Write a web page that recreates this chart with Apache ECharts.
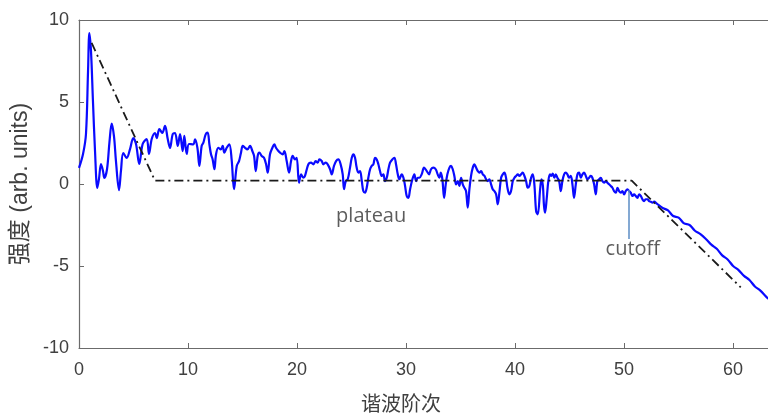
<!DOCTYPE html>
<html>
<head>
<meta charset="utf-8">
<script src="https://cdn.jsdelivr.net/npm/echarts@6/dist/echarts.min.js"></script>
<style>
html,body{margin:0;padding:0;background:#fff;}
#chart{width:768px;height:418px;}
</style>
</head>
<body>
<div id="chart"></div>
<script>
// Harmonic order (x) and intensity (y)
var harmonicOrder = [
0,0.37,0.64,0.83,0.95,1.1,1.28,1.47,1.68,1.83,2.02,2.2,2.32,2.57,2.8,3.0,3.21,3.39,3.67,3.85,4.06,4.38,4.68,4.98,5.23,5.53,5.84,6.21,6.42,6.67,6.97,7.13,7.37,7.64,7.89,8.14,8.35,8.6,8.81,9.06,9.27,9.51,9.66,9.88,10.09,
10.49,10.64,10.86,11.04,11.25,11.41,11.62,11.8,11.96,12.11,12.26,12.42,12.57,12.78,13.0,13.18,13.33,13.55,13.79,14.0,14.22,14.47,14.68,14.86,15.02,15.23,15.44,15.69,15.9,16.06,16.21,16.39,16.54,16.76,16.97,17.16,17.31,17.52,17.74,17.92,18.07,18.29,18.44,18.69,18.84,19.05,19.27,19.45,19.6,19.82,19.97,20.18,20.37,20.58,20.73,
21.04,21.28,21.5,21.71,21.9,22.05,22.26,22.41,22.63,22.81,23.03,23.18,23.39,23.58,23.79,24.0,24.19,24.31,24.47,24.65,24.86,25.02,25.17,25.32,25.47,25.63,25.78,25.94,26.08,26.24,26.39,26.54,26.7,26.85,27.0,27.16,27.31,27.46,27.61,27.77,27.92,28.07,28.23,28.38,28.53,28.74,28.93,29.08,29.24,29.39,29.6,29.76,29.91,30.06,30.21,30.37,30.58,30.76,30.92,31.07,31.22,31.44,
31.65,31.9,32.11,32.29,32.5,32.72,32.9,33.06,33.18,33.33,33.49,33.64,33.79,33.98,34.13,34.28,34.43,34.59,34.74,34.89,35.05,35.2,35.35,35.5,35.66,35.81,35.96,36.12,36.27,36.42,36.58,36.73,36.88,37.04,37.19,37.34,37.49,37.64,37.8,37.95,38.1,38.26,38.41,38.56,38.72,38.87,39.02,39.17,39.3,39.48,39.63,39.79,39.94,40.09,40.25,40.4,40.55,40.7,40.86,41.01,41.16,41.31,41.47,41.62,41.77,41.93,42.08,
42.3,42.42,42.55,42.65,42.75,42.9,43.05,43.2,43.32,43.45,43.6,43.73,43.88,44.04,44.19,44.34,44.5,44.65,44.8,44.95,45.11,45.26,45.41,45.57,45.72,45.87,46.03,46.18,46.33,46.49,46.63,46.79,46.94,47.09,47.25,47.4,47.55,47.71,47.86,48.01,48.17,48.32,48.47,48.62,48.78,48.93,49.08,49.24,49.39,49.54,49.7,49.85,50.0,50.15,50.31,50.46,50.61,50.76,50.92,51.07,51.22,51.38,51.53,51.68,51.83,51.99,52.14,52.29,52.45,52.6,52.75,
53.0,53.5,54.0,54.5,55.0,55.5,56.0,56.5,57.0,57.5,58.0,58.5,59.0,59.5,60.0,60.5,61.0,61.5,62.0,62.5,63.0,63.5
];
var intensity = [
0.98,1.83,3.05,6.9,9.2,8.1,5.06,2.0,-0.24,0.3,1.22,0.8,0.37,0.9,2.6,3.68,2.9,1.4,-0.37,0.8,1.89,1.59,2.13,2.8,2.44,1.22,2.44,2.74,1.83,2.74,3.11,2.8,3.35,3.11,3.54,2.74,2.2,3.05,3.11,2.32,3.05,2.01,2.93,1.83,2.44,
2.42,2.72,2.21,1.10,2.32,2.52,3.03,3.13,2.42,1.81,1.5,0.9,1.81,2.21,2.11,2.32,1.91,2.21,2.42,1.5,-0.32,1.1,1.4,1.91,2.32,2.21,2.11,2.32,2.01,1.71,0.79,1.71,1.91,1.71,1.6,1.2,0.69,1.81,2.21,2.42,2.21,2.01,1.91,1.81,2.01,1.4,0.69,1.4,1.71,1.5,1.6,0.08,0.59,0.38,0.5,
1.2,1.3,1.2,1.4,1.3,1.5,1.4,1.2,1.3,1.2,0.9,0.59,1.1,1.4,1.5,1.2,0.59,-0.32,0.18,0.29,1.0,1.6,1.81,1.6,1.0,0.69,0.79,0.18,-0.43,-0.53,-0.23,0.38,0.9,1.1,1.2,1.6,1.5,1.2,0.79,0.49,0.59,0.18,0.38,0.9,1.3,1.5,1.6,1.2,0.59,0.29,0.59,0.38,-0.12,-0.73,-0.84,-0.32,0.29,0.59,0.18,0.38,0.38,0.6,
1.0,0.79,0.59,0.9,1.0,0.9,0.59,0.38,0.69,0.29,-0.84,-0.02,0.59,1.0,1.1,0.9,0.49,-0.02,0.18,-0.12,0.38,-0.02,-0.23,-0.43,-1.44,-0.32,0.49,1.0,1.2,1.0,0.79,0.69,0.79,0.59,0.49,0.29,0.18,0.29,-0.02,-0.32,-0.43,-0.63,-1.24,-0.53,0.38,0.59,0.69,0.38,-0.23,-0.63,-0.43,0.18,0.38,0.49,0.59,0.49,0.59,0.69,0.49,0.18,-0.23,-0.12,0.38,0.59,-0.02,-1.65,-1.85,
-0.3,0.29,-0.1,-1.3,-1.75,-0.9,0.18,0.59,0.49,0.63,0.38,0.59,0.38,0.18,-0.43,0.18,0.59,0.69,0.59,0.38,0.49,-0.02,-0.84,-0.02,0.59,0.69,0.38,0.59,0.69,0.49,0.29,0.38,0.49,0.38,-0.02,-0.63,0.18,0.29,0.38,0.18,0.08,0.18,0.08,-0.02,-0.12,-0.23,-0.43,-0.53,-0.23,-0.43,-0.53,-0.43,-0.63,-0.43,-0.32,-0.43,-0.53,-0.73,-0.63,-0.73,-0.84,-0.63,-0.73,-0.93,-1.04,-0.93,-0.93,-1.04,-1.08,-1.14,-1.08,
-1.2,-1.45,-1.6,-1.95,-2.05,-2.4,-2.5,-2.85,-3.05,-3.35,-3.7,-3.95,-4.35,-4.6,-5.0,-5.25,-5.6,-5.85,-6.25,-6.5,-6.85,-7.15
];
// Dash-dot envelope (model) line
var envelopeX = [1.16, 6.97, 50.7, 60.7];
var envelopeY = [8.6, 0.2, 0.2, -6.3];
// Axis ticks
var xTicks = [0, 10, 20, 30, 40, 50, 60];
var yTicks = [-10, -5, 0, 5, 10];
// Annotations
var annotationText = ['plateau', 'cutoff'];
var annotationX = [26.8, 50.8];
var annotationY = [-1.95, -4.0];
var arrowX = 50.4, arrowFromY = -3.35, arrowToY = -0.37;

function zip(a, b) { return a.map(function (v, i) { return [v, b[i]]; }); }

var axisColor = '#6b6b6b';
var textColor = '#404040';
var xMax = 63.2;

var chart = echarts.init(document.getElementById('chart'), null, {renderer: 'canvas'});
chart.setOption({
  animation: false,
  backgroundColor: '#ffffff',
  grid: {left: 79, right: 0, top: 20, bottom: 69, containLabel: false},
  xAxis: [{
    type: 'value', min: 0, max: xMax, interval: 10, position: 'bottom',
    axisLine: {show: true, onZero: false, lineStyle: {color: axisColor, width: 1.2}},
    axisTick: {show: true, inside: true, length: 5, lineStyle: {color: axisColor}},
    axisLabel: {color: textColor, fontSize: 18, margin: 13, fontFamily: 'Liberation Sans, Arial, sans-serif',
      showMaxLabel: false,
      formatter: function (v) { return xTicks.indexOf(v) >= 0 ? String(v) : ''; }},
    splitLine: {show: false},
    name: '谐波阶次', nameLocation: 'middle', nameGap: 45,
    nameTextStyle: {fontSize: 20, color: textColor, fontFamily: 'Noto Sans CJK SC', padding: [0, 45, 0, 0]}
  }, {
    type: 'value', min: 0, max: xMax, interval: 10, position: 'top',
    axisLine: {show: true, onZero: false, lineStyle: {color: axisColor, width: 1.2}},
    axisTick: {show: true, inside: true, length: 5, lineStyle: {color: axisColor}},
    axisLabel: {show: false}, splitLine: {show: false}
  }],
  yAxis: [{
    type: 'value', min: -10, max: 10, interval: 5,
    axisLine: {show: true, onZero: false, lineStyle: {color: axisColor, width: 1.2}},
    axisTick: {show: true, inside: true, length: 5, lineStyle: {color: axisColor}},
    axisLabel: {color: textColor, fontSize: 18, margin: 10, fontFamily: 'Liberation Sans, Arial, sans-serif',
      formatter: function (v) { return yTicks.indexOf(v) >= 0 ? String(v) : ''; }},
    splitLine: {show: false},
    name: '强度 (arb. units)', nameLocation: 'middle', nameGap: 45, nameRotate: 90,
    nameTextStyle: {fontSize: 23, color: textColor, fontFamily: 'Liberation Sans, Noto Sans CJK SC, sans-serif'}
  }],
  series: [{
    type: 'line', name: 'spectrum', data: zip(harmonicOrder, intensity),
    showSymbol: false, smooth: 0.35, z: 2,
    lineStyle: {color: '#0a0aff', width: 2.2}
  }, {
    type: 'line', name: 'envelope', data: zip(envelopeX, envelopeY),
    showSymbol: false, z: 3,
    lineStyle: {color: '#1a1a1a', width: 1.8, type: [9, 4, 2, 4]},
    markLine: {
      silent: true, symbol: ['none', 'arrow'], symbolSize: [0, 9],
      label: {show: false},
      lineStyle: {color: '#5b8cc4', width: 1.5, type: 'solid'},
      data: [[{coord: [arrowX, arrowFromY]}, {coord: [arrowX, arrowToY]}]]
    }
  }, {
    type: 'scatter', name: 'notes', symbolSize: 0, z: 4,
    data: annotationText.map(function (t, i) { return {name: t, value: [annotationX[i], annotationY[i]]}; }),
    label: {show: true, position: 'inside', formatter: '{b}', color: '#333333', fontSize: 20,
      fontFamily: 'Open Sans, Noto Sans, sans-serif'}
  }]
});
</script>
</body>
</html>
